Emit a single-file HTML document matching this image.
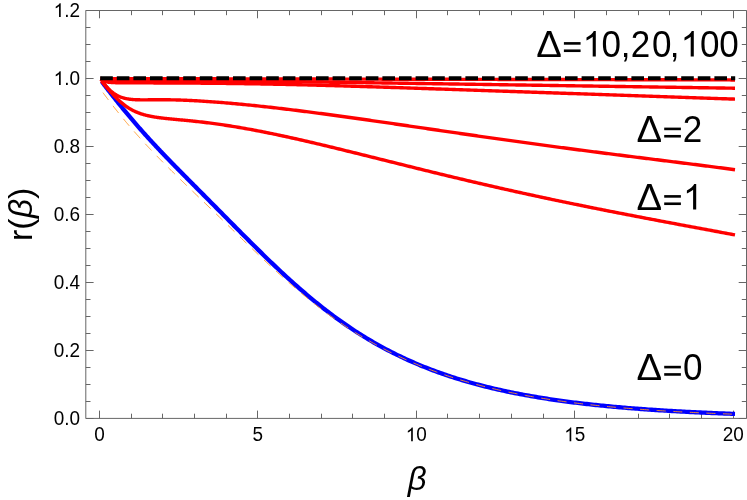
<!DOCTYPE html>
<html><head><meta charset="utf-8"><title>r(beta)</title>
<style>
html,body{margin:0;padding:0;background:#fff;}
svg{display:block;will-change:transform;}
.t{font-family:"Liberation Sans",sans-serif;fill:#000;}
</style>
</head><body>
<svg width="747" height="500" viewBox="0 0 747 500">
<rect width="747" height="500" fill="#fff"/>
<g stroke="#666" stroke-width="1" fill="none">
<path d="M85.8,10.5 H746.5 M85.8,418.4 H746.5 M85.8,10.5 V418.4 M746.5,10.5 V418.4"/>
<path d="M99.50,418.4 v-7.8 M99.50,10.5 v7.8 M131.50,418.4 v-4.7 M131.50,10.5 v4.7 M162.50,418.4 v-4.7 M162.50,10.5 v4.7 M194.50,418.4 v-4.7 M194.50,10.5 v4.7 M226.50,418.4 v-4.7 M226.50,10.5 v4.7 M257.50,418.4 v-7.8 M257.50,10.5 v7.8 M289.50,418.4 v-4.7 M289.50,10.5 v4.7 M321.50,418.4 v-4.7 M321.50,10.5 v4.7 M352.50,418.4 v-4.7 M352.50,10.5 v4.7 M384.50,418.4 v-4.7 M384.50,10.5 v4.7 M416.50,418.4 v-7.8 M416.50,10.5 v7.8 M447.50,418.4 v-4.7 M447.50,10.5 v4.7 M479.50,418.4 v-4.7 M479.50,10.5 v4.7 M511.50,418.4 v-4.7 M511.50,10.5 v4.7 M543.50,418.4 v-4.7 M543.50,10.5 v4.7 M574.50,418.4 v-7.8 M574.50,10.5 v7.8 M606.50,418.4 v-4.7 M606.50,10.5 v4.7 M638.50,418.4 v-4.7 M638.50,10.5 v4.7 M669.50,418.4 v-4.7 M669.50,10.5 v4.7 M701.50,418.4 v-4.7 M701.50,10.5 v4.7 M733.50,418.4 v-7.8 M733.50,10.5 v7.8 M85.8,418.50 h7.8 M746.5,418.50 h-7.8 M85.8,401.50 h4.7 M746.5,401.50 h-4.7 M85.8,384.50 h4.7 M746.5,384.50 h-4.7 M85.8,367.50 h4.7 M746.5,367.50 h-4.7 M85.8,350.50 h7.8 M746.5,350.50 h-7.8 M85.8,333.50 h4.7 M746.5,333.50 h-4.7 M85.8,316.50 h4.7 M746.5,316.50 h-4.7 M85.8,299.50 h4.7 M746.5,299.50 h-4.7 M85.8,282.50 h7.8 M746.5,282.50 h-7.8 M85.8,265.50 h4.7 M746.5,265.50 h-4.7 M85.8,248.50 h4.7 M746.5,248.50 h-4.7 M85.8,231.50 h4.7 M746.5,231.50 h-4.7 M85.8,214.50 h7.8 M746.5,214.50 h-7.8 M85.8,197.50 h4.7 M746.5,197.50 h-4.7 M85.8,180.50 h4.7 M746.5,180.50 h-4.7 M85.8,163.50 h4.7 M746.5,163.50 h-4.7 M85.8,146.50 h7.8 M746.5,146.50 h-7.8 M85.8,129.50 h4.7 M746.5,129.50 h-4.7 M85.8,112.50 h4.7 M746.5,112.50 h-4.7 M85.8,95.50 h4.7 M746.5,95.50 h-4.7 M85.8,78.50 h7.8 M746.5,78.50 h-7.8 M85.8,61.50 h4.7 M746.5,61.50 h-4.7 M85.8,44.50 h4.7 M746.5,44.50 h-4.7 M85.8,27.50 h4.7 M746.5,27.50 h-4.7 M85.8,10.50 h7.8 M746.5,10.50 h-7.8"/>
</g>
<path d="M101.69,81.46 L102.32,82.31 L102.96,83.15 L103.59,83.99 L104.23,84.83 L104.86,85.67 L105.50,86.51 L106.14,87.34 L106.77,88.17 L107.41,89.00 L108.04,89.83 L108.68,90.66 L109.31,91.48 L109.95,92.30 L110.58,93.12 L111.22,93.94 L111.85,94.75 L112.49,95.57 L113.13,96.38 L113.76,97.19 L114.40,97.99 L115.03,98.80 L115.67,99.60 L116.30,100.40 L116.94,101.20 L117.57,101.99 L118.21,102.79 L118.85,103.58 L119.48,104.37 L120.12,105.16 L120.75,105.94 L121.39,106.72 L122.02,107.50 L122.66,108.28 L123.29,109.06 L123.93,109.84 L124.56,110.61 L125.20,111.38 L125.84,112.15 L126.47,112.91 L127.11,113.68 L127.74,114.44 L128.38,115.20 L129.01,115.96 L129.65,116.71 L130.28,117.47 L130.92,118.22 L131.56,118.97 L132.19,119.71 L132.83,120.46 L133.46,121.20 L134.10,121.94 L134.73,122.68 L135.37,123.42 L136.00,124.16 L136.64,124.89 L137.27,125.62 L137.91,126.35 L138.55,127.08 L139.18,127.80 L139.82,128.53 L140.45,129.25 L141.09,129.97 L141.72,130.68 L142.36,131.40 L142.99,132.11 L143.63,132.82 L144.27,133.53 L144.90,134.24 L145.54,134.95 L146.17,135.65 L146.81,136.36 L147.44,137.06 L148.08,137.76 L148.71,138.45 L149.35,139.15 L149.98,139.84 L150.62,140.54 L151.26,141.23 L151.89,141.92 L152.53,142.61 L153.16,143.29 L153.80,143.98 L154.43,144.66 L155.07,145.34 L155.70,146.02 L156.34,146.70 L156.98,147.38 L157.61,148.05 L158.25,148.73 L158.88,149.40 L159.52,150.07 L160.15,150.75 L160.79,151.41 L161.42,152.08 L162.06,152.75 L162.69,153.42 L163.33,154.08 L163.97,154.75 L164.60,155.41 L165.24,156.07 L165.87,156.73 L166.51,157.39 L167.14,158.05 L167.78,158.71 L168.41,159.36 L169.05,160.02 L169.69,160.67 L170.32,161.33 L170.96,161.98 L171.59,162.63 L172.23,163.29 L172.86,163.94 L173.50,164.59 L174.13,165.24 L174.77,165.89 L175.40,166.53 L176.04,167.18 L176.68,167.83 L177.31,168.48 L177.95,169.12 L178.58,169.77 L179.22,170.41 L179.85,171.06 L180.49,171.70 L181.12,172.34 L181.76,172.99 L182.40,173.63 L183.03,174.27 L183.67,174.92 L184.30,175.56 L184.94,176.20 L185.57,176.84 L186.21,177.48 L186.84,178.12 L187.48,178.76 L188.11,179.40 L188.75,180.04 L189.39,180.68 L190.02,181.32 L190.66,181.96 L191.29,182.60 L191.93,183.24 L192.56,183.88 L193.20,184.52 L193.83,185.16 L194.47,185.80 L196.28,187.62 L198.09,189.43 L199.89,191.25 L201.70,193.07 L203.51,194.89 L205.32,196.71 L207.12,198.53 L208.93,200.35 L210.74,202.17 L212.55,203.99 L214.36,205.81 L216.16,207.63 L217.97,209.46 L219.78,211.28 L221.59,213.11 L223.40,214.93 L225.20,216.76 L227.01,218.58 L228.82,220.41 L230.63,222.23 L232.43,224.05 L234.24,225.88 L236.05,227.70 L237.86,229.52 L239.67,231.34 L241.47,233.15 L243.28,234.97 L245.09,236.78 L246.90,238.59 L248.70,240.39 L250.51,242.19 L252.32,243.99 L254.13,245.78 L255.94,247.57 L257.74,249.36 L259.55,251.14 L261.36,252.91 L263.17,254.68 L264.97,256.44 L266.78,258.19 L268.59,259.94 L270.40,261.68 L272.21,263.41 L274.01,265.14 L275.82,266.85 L277.63,268.56 L279.44,270.26 L281.25,271.95 L283.05,273.63 L284.86,275.31 L286.67,276.97 L288.48,278.62 L290.28,280.26 L292.09,281.89 L293.90,283.51 L295.71,285.12 L297.52,286.72 L299.32,288.31 L301.13,289.88 L302.94,291.45 L304.75,293.00 L306.55,294.54 L308.36,296.06 L310.17,297.58 L311.98,299.08 L313.79,300.57 L315.59,302.05 L317.40,303.51 L319.21,304.96 L321.02,306.40 L322.82,307.83 L324.63,309.24 L326.44,310.64 L328.25,312.02 L330.06,313.39 L331.86,314.75 L333.67,316.10 L335.48,317.43 L337.29,318.75 L339.10,320.05 L340.90,321.34 L342.71,322.62 L344.52,323.88 L346.33,325.13 L348.13,326.37 L349.94,327.59 L351.75,328.80 L353.56,330.00 L355.37,331.18 L357.17,332.35 L358.98,333.50 L360.79,334.64 L362.60,335.77 L364.40,336.89 L366.21,337.99 L368.02,339.08 L369.83,340.16 L371.64,341.22 L373.44,342.27 L375.25,343.31 L377.06,344.34 L378.87,345.35 L380.67,346.35 L382.48,347.34 L384.29,348.31 L386.10,349.28 L387.91,350.23 L389.71,351.17 L391.52,352.10 L393.33,353.01 L395.14,353.92 L396.95,354.81 L398.75,355.69 L400.56,356.56 L402.37,357.41 L404.18,358.26 L405.98,359.10 L407.79,359.92 L409.60,360.74 L411.41,361.54 L413.22,362.33 L415.02,363.11 L416.83,363.88 L418.64,364.64 L420.45,365.40 L422.25,366.14 L424.06,366.87 L425.87,367.59 L427.68,368.30 L429.49,369.00 L431.29,369.69 L433.10,370.37 L434.91,371.05 L436.72,371.71 L438.52,372.37 L440.33,373.01 L442.14,373.65 L443.95,374.28 L445.76,374.90 L447.56,375.51 L449.37,376.11 L451.18,376.71 L452.99,377.29 L454.80,377.87 L456.60,378.44 L458.41,379.00 L460.22,379.56 L462.03,380.10 L463.83,380.64 L465.64,381.17 L467.45,381.70 L469.26,382.21 L471.07,382.72 L472.87,383.23 L474.68,383.72 L476.49,384.21 L478.30,384.69 L480.10,385.17 L481.91,385.63 L483.72,386.09 L485.53,386.55 L487.34,387.00 L489.14,387.44 L490.95,387.88 L492.76,388.31 L494.57,388.73 L496.37,389.15 L498.18,389.56 L499.99,389.97 L501.80,390.37 L503.61,390.76 L505.41,391.15 L507.22,391.54 L509.03,391.92 L510.84,392.29 L512.65,392.66 L514.45,393.02 L516.26,393.38 L518.07,393.73 L519.88,394.08 L521.68,394.42 L523.49,394.76 L525.30,395.09 L527.11,395.42 L528.92,395.74 L530.72,396.06 L532.53,396.38 L534.34,396.69 L536.15,396.99 L537.95,397.29 L539.76,397.59 L541.57,397.89 L543.38,398.17 L545.19,398.46 L546.99,398.74 L548.80,399.02 L550.61,399.29 L552.42,399.56 L554.22,399.82 L556.03,400.09 L557.84,400.34 L559.65,400.60 L561.46,400.85 L563.26,401.10 L565.07,401.34 L566.88,401.58 L568.69,401.82 L570.50,402.05 L572.30,402.28 L574.11,402.51 L575.92,402.73 L577.73,402.95 L579.53,403.17 L581.34,403.38 L583.15,403.60 L584.96,403.80 L586.77,404.01 L588.57,404.21 L590.38,404.41 L592.19,404.61 L594.00,404.80 L595.80,405.00 L597.61,405.18 L599.42,405.37 L601.23,405.55 L603.04,405.73 L604.84,405.91 L606.65,406.09 L608.46,406.26 L610.27,406.43 L612.07,406.60 L613.88,406.77 L615.69,406.93 L617.50,407.09 L619.31,407.25 L621.11,407.41 L622.92,407.56 L624.73,407.72 L626.54,407.87 L628.35,408.02 L630.15,408.16 L631.96,408.31 L633.77,408.45 L635.58,408.59 L637.38,408.73 L639.19,408.86 L641.00,409.00 L642.81,409.13 L644.62,409.26 L646.42,409.39 L648.23,409.52 L650.04,409.64 L651.85,409.76 L653.65,409.89 L655.46,410.01 L657.27,410.12 L659.08,410.24 L660.89,410.36 L662.69,410.47 L664.50,410.58 L666.31,410.69 L668.12,410.80 L669.93,410.91 L671.73,411.01 L673.54,411.12 L675.35,411.22 L677.16,411.32 L678.96,411.42 L680.77,411.52 L682.58,411.61 L684.39,411.71 L686.20,411.80 L688.00,411.90 L689.81,411.99 L691.62,412.08 L693.43,412.17 L695.23,412.26 L697.04,412.34 L698.85,412.43 L700.66,412.51 L702.47,412.60 L704.27,412.68 L706.08,412.76 L707.89,412.84 L709.70,412.92 L711.50,412.99 L713.31,413.07 L715.12,413.14 L716.93,413.22 L718.74,413.29 L720.54,413.36 L722.35,413.44 L724.16,413.51 L725.97,413.57 L727.78,413.64 L729.58,413.71 L731.39,413.78 L733.20,413.84 L735.01,413.91" fill="none" stroke="#0000ff" stroke-width="4.3" stroke-linejoin="round"/>
<path d="M102.96,92.68 L103.59,93.53 L104.23,94.38 L104.86,95.23 L105.50,96.07 L106.14,96.91 L106.77,97.75 L107.41,98.59 L108.04,99.43 L108.68,100.26 L109.31,101.09 L109.95,101.92 L110.58,102.75 L111.22,103.58 L111.85,104.40 L112.49,105.22 L113.13,106.04 L113.76,106.85 L114.40,107.66 L115.03,108.47 L115.67,109.28 L116.30,110.08 L116.94,110.89 L117.57,111.68 L118.21,112.48 L118.85,113.27 L119.48,114.06 L120.12,114.85 L120.75,115.63 L121.39,116.41 L122.02,117.19 L122.66,117.97 L123.29,118.74 L123.93,119.51 L124.56,120.27 L125.20,121.04 L125.84,121.80 L126.47,122.56 L127.11,123.31 L127.74,124.06 L128.38,124.81 L129.01,125.56 L129.65,126.31 L130.28,127.05 L130.92,127.79 L131.56,128.52 L132.19,129.26 L132.83,129.99 L133.46,130.72 L134.10,131.44 L134.73,132.16 L135.37,132.89 L136.00,133.60 L136.64,134.32 L137.27,135.03 L137.91,135.74 L138.55,136.45 L139.18,137.16 L139.82,137.86 L140.45,138.57 L141.09,139.27 L141.72,139.96 L142.36,140.66 L142.99,141.35 L143.63,142.04 L144.27,142.73 L144.90,143.42 L145.54,144.11 L146.17,144.79 L146.81,145.47 L147.44,146.15 L148.08,146.83 L148.71,147.50 L149.35,148.18 L149.98,148.85 L150.62,149.52 L151.26,150.19 L151.89,150.86 L152.53,151.52 L153.16,152.18 L153.80,152.85 L154.43,153.51 L155.07,154.17 L155.70,154.82 L156.34,155.48 L156.98,156.13 L157.61,156.79 L158.25,157.44 L158.88,158.09 L159.52,158.74 L160.15,159.38 L160.79,160.03 L161.42,160.68 L162.06,161.32 L162.69,161.96 L163.33,162.60 L163.97,163.24 L164.60,163.88 L165.24,164.52 L165.87,165.16 L166.51,165.79 L167.14,166.43 L167.78,167.06 L168.41,167.69 L169.05,168.32 L169.69,168.95 L170.32,169.58 L170.96,170.21 L171.59,170.84 L172.23,171.47 L172.86,172.09 L173.50,172.72 L174.13,173.34 L174.77,173.96 L175.40,174.59 L176.04,175.21 L176.68,175.83 L177.31,176.45 L177.95,177.07 L178.58,177.69 L179.22,178.31 L179.85,178.93 L180.49,179.55 L181.12,180.16 L181.76,180.78 L182.40,181.40 L183.03,182.01 L183.67,182.63 L184.30,183.24 L184.94,183.86 L185.57,184.47 L186.21,185.08 L186.84,185.70 L187.48,186.31 L188.11,186.92 L188.75,187.53 L189.39,188.15 L190.02,188.76 L190.66,189.37 L191.29,189.98 L191.93,190.59 L192.56,191.20 L193.20,191.82 L193.83,192.43 L194.47,193.04 L196.28,194.77 L198.09,196.51 L199.89,198.25 L201.70,199.99 L203.51,201.72 L205.32,203.46 L207.12,205.20 L208.93,206.94 L210.74,208.69 L212.55,210.43 L214.36,212.17 L216.16,213.92 L217.97,215.67 L219.78,217.42 L221.59,219.17 L223.40,220.92 L225.20,222.67 L227.01,224.42 L228.82,226.18 L230.63,227.93 L232.43,229.68 L234.24,231.43 L236.05,233.19 L237.86,234.94 L239.67,236.69 L241.47,238.44 L243.28,240.18 L245.09,241.93 L246.90,243.67 L248.70,245.41 L250.51,247.14 L252.32,248.87 L254.13,250.60 L255.94,252.32 L257.74,254.04 L259.55,255.75 L261.36,257.46 L263.17,259.16 L264.97,260.85 L266.78,262.54 L268.59,264.22 L270.40,265.90 L272.21,267.56 L274.01,269.22 L275.82,270.87 L277.63,272.51 L279.44,274.15 L281.25,275.77 L283.05,277.38 L284.86,278.99 L286.67,280.59 L288.48,282.17 L290.28,283.75 L292.09,285.31 L293.90,286.87 L295.71,288.41 L297.52,289.94 L299.32,291.47 L301.13,292.98 L302.94,294.48 L304.75,295.96 L306.55,297.44 L308.36,298.90 L310.17,300.36 L311.98,301.80 L313.79,303.22 L315.59,304.64 L317.40,306.04 L319.21,307.43 L321.02,308.81 L322.82,310.18 L324.63,311.53 L326.44,312.87 L328.25,314.20 L330.06,315.52 L331.86,316.82 L333.67,318.11 L335.48,319.39 L337.29,320.65 L339.10,321.90 L340.90,323.14 L342.71,324.37 L344.52,325.58 L346.33,326.78 L348.13,327.97 L349.94,329.15 L351.75,330.31 L353.56,331.46 L355.37,332.60 L357.17,333.72 L358.98,334.84 L360.79,335.94 L362.60,337.03 L364.40,338.10 L366.21,339.17 L368.02,340.22 L369.83,341.26 L371.64,342.29 L373.44,343.31 L375.25,344.31 L377.06,345.30 L378.87,346.29 L380.67,347.25 L382.48,348.21 L384.29,349.16 L386.10,350.10 L387.91,351.02 L389.71,351.93 L391.52,352.84 L393.33,353.73 L395.14,354.61 L396.95,355.48 L398.75,356.34 L400.56,357.18 L402.37,358.02 L404.18,358.85 L405.98,359.67 L407.79,360.47 L409.60,361.27 L411.41,362.06 L413.22,362.83 L415.02,363.60 L416.83,364.36 L418.64,365.11 L420.45,365.84 L422.25,366.57 L424.06,367.29 L425.87,368.00 L427.68,368.70 L429.49,369.39 L431.29,370.08 L433.10,370.75 L434.91,371.42 L436.72,372.07 L438.52,372.72 L440.33,373.36 L442.14,373.99 L443.95,374.61 L445.76,375.22 L447.56,375.83 L449.37,376.43 L451.18,377.02 L452.99,377.60 L454.80,378.17 L456.60,378.74 L458.41,379.30 L460.22,379.85 L462.03,380.40 L463.83,380.93 L465.64,381.46 L467.45,381.98 L469.26,382.50 L471.07,383.01 L472.87,383.51 L474.68,384.00 L476.49,384.49 L478.30,384.97 L480.10,385.45 L481.91,385.91 L483.72,386.37 L485.53,386.83 L487.34,387.28 L489.14,387.72 L490.95,388.16 L492.76,388.59 L494.57,389.01 L496.37,389.43 L498.18,389.85 L499.99,390.25 L501.80,390.65 L503.61,391.05 L505.41,391.44 L507.22,391.83 L509.03,392.21 L510.84,392.58 L512.65,392.95 L514.45,393.31 L516.26,393.67 L518.07,394.03 L519.88,394.38 L521.68,394.72 L523.49,395.06 L525.30,395.39 L527.11,395.72 L528.92,396.05 L530.72,396.37 L532.53,396.69 L534.34,397.00 L536.15,397.31 L537.95,397.61 L539.76,397.91 L541.57,398.20 L543.38,398.49 L545.19,398.78 L546.99,399.06 L548.80,399.34 L550.61,399.61 L552.42,399.89 L554.22,400.15 L556.03,400.42 L557.84,400.67 L559.65,400.93 L561.46,401.18 L563.26,401.43 L565.07,401.68 L566.88,401.92 L568.69,402.15 L570.50,402.39 L572.30,402.62 L574.11,402.85 L575.92,403.07 L577.73,403.30 L579.53,403.51 L581.34,403.73 L583.15,403.94 L584.96,404.15 L586.77,404.36 L588.57,404.56 L590.38,404.76 L592.19,404.96 L594.00,405.15 L595.80,405.35 L597.61,405.53 L599.42,405.72 L601.23,405.91 L603.04,406.09 L604.84,406.27 L606.65,406.44 L608.46,406.62 L610.27,406.79 L612.07,406.96 L613.88,407.12 L615.69,407.29 L617.50,407.45 L619.31,407.61 L621.11,407.76 L622.92,407.92 L624.73,408.07 L626.54,408.22 L628.35,408.37 L630.15,408.52 L631.96,408.66 L633.77,408.80 L635.58,408.94 L637.38,409.08 L639.19,409.22 L641.00,409.35 L642.81,409.48 L644.62,409.61 L646.42,409.74 L648.23,409.87 L650.04,409.99 L651.85,410.12 L653.65,410.24 L655.46,410.36 L657.27,410.48 L659.08,410.59 L660.89,410.71 L662.69,410.82 L664.50,410.93 L666.31,411.04 L668.12,411.15 L669.93,411.25 L671.73,411.36 L673.54,411.46 L675.35,411.57 L677.16,411.67 L678.96,411.77 L680.77,411.86 L682.58,411.96 L684.39,412.05 L686.20,412.15 L688.00,412.24 L689.81,412.33 L691.62,412.42 L693.43,412.51 L695.23,412.60 L697.04,412.68 L698.85,412.77 L700.66,412.85 L702.47,412.93 L704.27,413.01 L706.08,413.09 L707.89,413.17 L709.70,413.25 L711.50,413.32 L713.31,413.40 L715.12,413.47 L716.93,413.55 L718.74,413.62 L720.54,413.69 L722.35,413.76 L724.16,413.83 L725.97,413.90 L727.78,413.97 L729.58,414.03 L731.39,414.10 L733.20,414.16 L735.01,414.22" fill="none" stroke="#ff9526" stroke-width="0.9" stroke-dasharray="9.1 7.5"/>
<path d="M101.69,81.20 L102.32,81.97 L102.96,82.75 L103.59,83.53 L104.23,84.30 L104.86,85.07 L105.50,85.84 L106.14,86.60 L106.77,87.36 L107.41,88.11 L108.04,88.86 L108.68,89.61 L109.31,90.34 L109.95,91.07 L110.58,91.80 L111.22,92.51 L111.85,93.22 L112.49,93.92 L113.13,94.61 L113.76,95.29 L114.40,95.96 L115.03,96.62 L115.67,97.27 L116.30,97.91 L116.94,98.54 L117.57,99.16 L118.21,99.76 L118.85,100.36 L119.48,100.94 L120.12,101.51 L120.75,102.07 L121.39,102.62 L122.02,103.15 L122.66,103.67 L123.29,104.18 L123.93,104.68 L124.56,105.16 L125.20,105.64 L125.84,106.10 L126.47,106.54 L127.11,106.98 L127.74,107.40 L128.38,107.81 L129.01,108.21 L129.65,108.60 L130.28,108.98 L130.92,109.35 L131.56,109.70 L132.19,110.04 L132.83,110.38 L133.46,110.70 L134.10,111.01 L134.73,111.31 L135.37,111.60 L136.00,111.89 L136.64,112.16 L137.27,112.42 L137.91,112.68 L138.55,112.92 L139.18,113.16 L139.82,113.39 L140.45,113.61 L141.09,113.83 L141.72,114.04 L142.36,114.24 L142.99,114.43 L143.63,114.62 L144.27,114.80 L144.90,114.97 L145.54,115.14 L146.17,115.30 L146.81,115.45 L147.44,115.61 L148.08,115.75 L148.71,115.89 L149.35,116.03 L149.98,116.16 L150.62,116.29 L151.26,116.41 L151.89,116.53 L152.53,116.65 L153.16,116.76 L153.80,116.87 L154.43,116.97 L155.07,117.07 L155.70,117.17 L156.34,117.27 L156.98,117.36 L157.61,117.45 L158.25,117.54 L158.88,117.63 L159.52,117.71 L160.15,117.80 L160.79,117.88 L161.42,117.95 L162.06,118.03 L162.69,118.11 L163.33,118.18 L163.97,118.25 L164.60,118.32 L165.24,118.39 L165.87,118.46 L166.51,118.53 L167.14,118.60 L167.78,118.66 L168.41,118.73 L169.05,118.79 L169.69,118.85 L170.32,118.92 L170.96,118.98 L171.59,119.04 L172.23,119.10 L172.86,119.16 L173.50,119.22 L174.13,119.28 L174.77,119.34 L175.40,119.40 L176.04,119.46 L176.68,119.52 L177.31,119.58 L177.95,119.64 L178.58,119.70 L179.22,119.76 L179.85,119.82 L180.49,119.88 L181.12,119.94 L181.76,120.00 L182.40,120.05 L183.03,120.12 L183.67,120.18 L184.30,120.24 L184.94,120.30 L185.57,120.36 L186.21,120.42 L186.84,120.48 L187.48,120.54 L188.11,120.61 L188.75,120.67 L189.39,120.73 L190.02,120.80 L190.66,120.86 L191.29,120.93 L191.93,120.99 L192.56,121.06 L193.20,121.12 L193.83,121.19 L194.47,121.26 L196.28,121.45 L198.09,121.65 L199.89,121.85 L201.70,122.06 L203.51,122.27 L205.32,122.49 L207.12,122.71 L208.93,122.93 L210.74,123.17 L212.55,123.40 L214.36,123.64 L216.16,123.89 L217.97,124.14 L219.78,124.40 L221.59,124.66 L223.40,124.93 L225.20,125.20 L227.01,125.47 L228.82,125.75 L230.63,126.04 L232.43,126.33 L234.24,126.62 L236.05,126.92 L237.86,127.22 L239.67,127.53 L241.47,127.84 L243.28,128.15 L245.09,128.47 L246.90,128.80 L248.70,129.12 L250.51,129.45 L252.32,129.79 L254.13,130.13 L255.94,130.47 L257.74,130.82 L259.55,131.16 L261.36,131.52 L263.17,131.87 L264.97,132.23 L266.78,132.60 L268.59,132.96 L270.40,133.33 L272.21,133.70 L274.01,134.08 L275.82,134.46 L277.63,134.84 L279.44,135.22 L281.25,135.61 L283.05,135.99 L284.86,136.39 L286.67,136.78 L288.48,137.18 L290.28,137.57 L292.09,137.97 L293.90,138.38 L295.71,138.78 L297.52,139.19 L299.32,139.60 L301.13,140.01 L302.94,140.42 L304.75,140.84 L306.55,141.26 L308.36,141.67 L310.17,142.10 L311.98,142.52 L313.79,142.94 L315.59,143.37 L317.40,143.79 L319.21,144.22 L321.02,144.65 L322.82,145.08 L324.63,145.51 L326.44,145.95 L328.25,146.38 L330.06,146.82 L331.86,147.26 L333.67,147.69 L335.48,148.13 L337.29,148.57 L339.10,149.01 L340.90,149.46 L342.71,149.90 L344.52,150.34 L346.33,150.79 L348.13,151.23 L349.94,151.68 L351.75,152.12 L353.56,152.57 L355.37,153.02 L357.17,153.46 L358.98,153.91 L360.79,154.36 L362.60,154.81 L364.40,155.26 L366.21,155.71 L368.02,156.16 L369.83,156.61 L371.64,157.06 L373.44,157.51 L375.25,157.96 L377.06,158.41 L378.87,158.86 L380.67,159.31 L382.48,159.77 L384.29,160.22 L386.10,160.67 L387.91,161.12 L389.71,161.57 L391.52,162.02 L393.33,162.47 L395.14,162.92 L396.95,163.37 L398.75,163.82 L400.56,164.27 L402.37,164.72 L404.18,165.17 L405.98,165.62 L407.79,166.07 L409.60,166.52 L411.41,166.96 L413.22,167.41 L415.02,167.86 L416.83,168.30 L418.64,168.75 L420.45,169.20 L422.25,169.64 L424.06,170.09 L425.87,170.53 L427.68,170.97 L429.49,171.41 L431.29,171.86 L433.10,172.30 L434.91,172.74 L436.72,173.18 L438.52,173.62 L440.33,174.06 L442.14,174.49 L443.95,174.93 L445.76,175.37 L447.56,175.80 L449.37,176.24 L451.18,176.67 L452.99,177.11 L454.80,177.54 L456.60,177.97 L458.41,178.40 L460.22,178.83 L462.03,179.26 L463.83,179.69 L465.64,180.12 L467.45,180.55 L469.26,180.97 L471.07,181.40 L472.87,181.82 L474.68,182.24 L476.49,182.67 L478.30,183.09 L480.10,183.51 L481.91,183.93 L483.72,184.35 L485.53,184.76 L487.34,185.18 L489.14,185.60 L490.95,186.01 L492.76,186.42 L494.57,186.84 L496.37,187.25 L498.18,187.66 L499.99,188.07 L501.80,188.48 L503.61,188.89 L505.41,189.29 L507.22,189.70 L509.03,190.11 L510.84,190.51 L512.65,190.91 L514.45,191.32 L516.26,191.72 L518.07,192.12 L519.88,192.52 L521.68,192.91 L523.49,193.31 L525.30,193.71 L527.11,194.10 L528.92,194.50 L530.72,194.89 L532.53,195.28 L534.34,195.67 L536.15,196.07 L537.95,196.45 L539.76,196.84 L541.57,197.23 L543.38,197.62 L545.19,198.00 L546.99,198.39 L548.80,198.77 L550.61,199.16 L552.42,199.54 L554.22,199.92 L556.03,200.30 L557.84,200.68 L559.65,201.06 L561.46,201.43 L563.26,201.81 L565.07,202.19 L566.88,202.56 L568.69,202.94 L570.50,203.31 L572.30,203.68 L574.11,204.05 L575.92,204.42 L577.73,204.79 L579.53,205.16 L581.34,205.53 L583.15,205.90 L584.96,206.26 L586.77,206.63 L588.57,206.99 L590.38,207.36 L592.19,207.72 L594.00,208.08 L595.80,208.45 L597.61,208.81 L599.42,209.17 L601.23,209.53 L603.04,209.89 L604.84,210.24 L606.65,210.60 L608.46,210.96 L610.27,211.32 L612.07,211.67 L613.88,212.03 L615.69,212.38 L617.50,212.73 L619.31,213.09 L621.11,213.44 L622.92,213.79 L624.73,214.14 L626.54,214.49 L628.35,214.84 L630.15,215.19 L631.96,215.54 L633.77,215.89 L635.58,216.24 L637.38,216.59 L639.19,216.93 L641.00,217.28 L642.81,217.63 L644.62,217.97 L646.42,218.32 L648.23,218.66 L650.04,219.00 L651.85,219.35 L653.65,219.69 L655.46,220.04 L657.27,220.38 L659.08,220.72 L660.89,221.06 L662.69,221.40 L664.50,221.74 L666.31,222.09 L668.12,222.43 L669.93,222.77 L671.73,223.11 L673.54,223.45 L675.35,223.79 L677.16,224.12 L678.96,224.46 L680.77,224.80 L682.58,225.14 L684.39,225.48 L686.20,225.82 L688.00,226.15 L689.81,226.49 L691.62,226.83 L693.43,227.17 L695.23,227.50 L697.04,227.84 L698.85,228.18 L700.66,228.52 L702.47,228.85 L704.27,229.19 L706.08,229.53 L707.89,229.86 L709.70,230.20 L711.50,230.53 L713.31,230.87 L715.12,231.21 L716.93,231.54 L718.74,231.88 L720.54,232.22 L722.35,232.55 L724.16,232.89 L725.97,233.23 L727.78,233.56 L729.58,233.90 L731.39,234.23 L733.20,234.57 L735.01,234.91" stroke="#ff0000" stroke-width="3.4" fill="none" stroke-linejoin="round"/>
<path d="M101.69,81.21 L102.32,81.98 L102.96,82.75 L103.59,83.50 L104.23,84.24 L104.86,84.97 L105.50,85.69 L106.14,86.39 L106.77,87.07 L107.41,87.74 L108.04,88.38 L108.68,89.01 L109.31,89.62 L109.95,90.21 L110.58,90.78 L111.22,91.32 L111.85,91.85 L112.49,92.35 L113.13,92.83 L113.76,93.29 L114.40,93.73 L115.03,94.15 L115.67,94.55 L116.30,94.93 L116.94,95.28 L117.57,95.62 L118.21,95.94 L118.85,96.24 L119.48,96.53 L120.12,96.79 L120.75,97.05 L121.39,97.28 L122.02,97.50 L122.66,97.71 L123.29,97.90 L123.93,98.08 L124.56,98.24 L125.20,98.40 L125.84,98.54 L126.47,98.67 L127.11,98.80 L127.74,98.91 L128.38,99.01 L129.01,99.11 L129.65,99.19 L130.28,99.27 L130.92,99.34 L131.56,99.41 L132.19,99.47 L132.83,99.52 L133.46,99.57 L134.10,99.61 L134.73,99.65 L135.37,99.68 L136.00,99.71 L136.64,99.74 L137.27,99.76 L137.91,99.78 L138.55,99.79 L139.18,99.81 L139.82,99.82 L140.45,99.83 L141.09,99.83 L141.72,99.84 L142.36,99.84 L142.99,99.84 L143.63,99.84 L144.27,99.84 L144.90,99.84 L145.54,99.84 L146.17,99.84 L146.81,99.83 L147.44,99.83 L148.08,99.82 L148.71,99.82 L149.35,99.81 L149.98,99.81 L150.62,99.80 L151.26,99.79 L151.89,99.79 L152.53,99.78 L153.16,99.78 L153.80,99.77 L154.43,99.77 L155.07,99.76 L155.70,99.76 L156.34,99.75 L156.98,99.75 L157.61,99.75 L158.25,99.75 L158.88,99.74 L159.52,99.74 L160.15,99.74 L160.79,99.74 L161.42,99.74 L162.06,99.74 L162.69,99.74 L163.33,99.75 L163.97,99.75 L164.60,99.75 L165.24,99.76 L165.87,99.76 L166.51,99.77 L167.14,99.78 L167.78,99.78 L168.41,99.79 L169.05,99.80 L169.69,99.81 L170.32,99.82 L170.96,99.83 L171.59,99.84 L172.23,99.85 L172.86,99.87 L173.50,99.88 L174.13,99.89 L174.77,99.91 L175.40,99.92 L176.04,99.94 L176.68,99.96 L177.31,99.98 L177.95,99.99 L178.58,100.01 L179.22,100.03 L179.85,100.05 L180.49,100.07 L181.12,100.09 L181.76,100.12 L182.40,100.14 L183.03,100.16 L183.67,100.19 L184.30,100.21 L184.94,100.24 L185.57,100.26 L186.21,100.29 L186.84,100.32 L187.48,100.34 L188.11,100.37 L188.75,100.40 L189.39,100.43 L190.02,100.46 L190.66,100.49 L191.29,100.52 L191.93,100.55 L192.56,100.59 L193.20,100.62 L193.83,100.65 L194.47,100.68 L196.28,100.78 L198.09,100.89 L199.89,100.99 L201.70,101.10 L203.51,101.22 L205.32,101.33 L207.12,101.45 L208.93,101.58 L210.74,101.70 L212.55,101.83 L214.36,101.97 L216.16,102.10 L217.97,102.24 L219.78,102.39 L221.59,102.53 L223.40,102.68 L225.20,102.83 L227.01,102.98 L228.82,103.14 L230.63,103.30 L232.43,103.46 L234.24,103.62 L236.05,103.78 L237.86,103.95 L239.67,104.12 L241.47,104.29 L243.28,104.47 L245.09,104.64 L246.90,104.82 L248.70,105.00 L250.51,105.18 L252.32,105.37 L254.13,105.56 L255.94,105.74 L257.74,105.93 L259.55,106.13 L261.36,106.32 L263.17,106.51 L264.97,106.71 L266.78,106.91 L268.59,107.11 L270.40,107.31 L272.21,107.52 L274.01,107.72 L275.82,107.93 L277.63,108.14 L279.44,108.35 L281.25,108.56 L283.05,108.78 L284.86,108.99 L286.67,109.21 L288.48,109.42 L290.28,109.64 L292.09,109.86 L293.90,110.09 L295.71,110.31 L297.52,110.53 L299.32,110.76 L301.13,110.99 L302.94,111.21 L304.75,111.44 L306.55,111.67 L308.36,111.90 L310.17,112.14 L311.98,112.37 L313.79,112.61 L315.59,112.84 L317.40,113.08 L319.21,113.32 L321.02,113.56 L322.82,113.79 L324.63,114.04 L326.44,114.28 L328.25,114.52 L330.06,114.76 L331.86,115.01 L333.67,115.25 L335.48,115.50 L337.29,115.75 L339.10,115.99 L340.90,116.24 L342.71,116.49 L344.52,116.74 L346.33,116.99 L348.13,117.24 L349.94,117.50 L351.75,117.75 L353.56,118.00 L355.37,118.25 L357.17,118.51 L358.98,118.76 L360.79,119.02 L362.60,119.28 L364.40,119.53 L366.21,119.79 L368.02,120.05 L369.83,120.30 L371.64,120.56 L373.44,120.82 L375.25,121.08 L377.06,121.34 L378.87,121.60 L380.67,121.86 L382.48,122.12 L384.29,122.38 L386.10,122.64 L387.91,122.91 L389.71,123.17 L391.52,123.43 L393.33,123.69 L395.14,123.96 L396.95,124.22 L398.75,124.48 L400.56,124.75 L402.37,125.01 L404.18,125.27 L405.98,125.54 L407.79,125.80 L409.60,126.06 L411.41,126.33 L413.22,126.59 L415.02,126.86 L416.83,127.12 L418.64,127.39 L420.45,127.65 L422.25,127.91 L424.06,128.18 L425.87,128.44 L427.68,128.71 L429.49,128.97 L431.29,129.24 L433.10,129.50 L434.91,129.76 L436.72,130.03 L438.52,130.29 L440.33,130.56 L442.14,130.82 L443.95,131.08 L445.76,131.35 L447.56,131.61 L449.37,131.87 L451.18,132.14 L452.99,132.40 L454.80,132.66 L456.60,132.93 L458.41,133.19 L460.22,133.45 L462.03,133.71 L463.83,133.97 L465.64,134.23 L467.45,134.50 L469.26,134.76 L471.07,135.02 L472.87,135.28 L474.68,135.54 L476.49,135.80 L478.30,136.06 L480.10,136.32 L481.91,136.57 L483.72,136.83 L485.53,137.09 L487.34,137.35 L489.14,137.61 L490.95,137.86 L492.76,138.12 L494.57,138.38 L496.37,138.63 L498.18,138.89 L499.99,139.14 L501.80,139.40 L503.61,139.65 L505.41,139.91 L507.22,140.16 L509.03,140.41 L510.84,140.67 L512.65,140.92 L514.45,141.17 L516.26,141.42 L518.07,141.67 L519.88,141.92 L521.68,142.17 L523.49,142.42 L525.30,142.67 L527.11,142.92 L528.92,143.17 L530.72,143.42 L532.53,143.67 L534.34,143.91 L536.15,144.16 L537.95,144.41 L539.76,144.65 L541.57,144.90 L543.38,145.14 L545.19,145.39 L546.99,145.63 L548.80,145.87 L550.61,146.12 L552.42,146.36 L554.22,146.60 L556.03,146.84 L557.84,147.09 L559.65,147.33 L561.46,147.57 L563.26,147.81 L565.07,148.05 L566.88,148.29 L568.69,148.52 L570.50,148.76 L572.30,149.00 L574.11,149.24 L575.92,149.47 L577.73,149.71 L579.53,149.95 L581.34,150.18 L583.15,150.42 L584.96,150.65 L586.77,150.89 L588.57,151.12 L590.38,151.36 L592.19,151.59 L594.00,151.82 L595.80,152.05 L597.61,152.29 L599.42,152.52 L601.23,152.75 L603.04,152.98 L604.84,153.21 L606.65,153.44 L608.46,153.67 L610.27,153.90 L612.07,154.13 L613.88,154.36 L615.69,154.59 L617.50,154.82 L619.31,155.05 L621.11,155.28 L622.92,155.50 L624.73,155.73 L626.54,155.96 L628.35,156.19 L630.15,156.41 L631.96,156.64 L633.77,156.87 L635.58,157.09 L637.38,157.32 L639.19,157.55 L641.00,157.77 L642.81,158.00 L644.62,158.22 L646.42,158.45 L648.23,158.68 L650.04,158.90 L651.85,159.13 L653.65,159.35 L655.46,159.58 L657.27,159.80 L659.08,160.03 L660.89,160.25 L662.69,160.48 L664.50,160.70 L666.31,160.93 L668.12,161.16 L669.93,161.38 L671.73,161.61 L673.54,161.83 L675.35,162.06 L677.16,162.29 L678.96,162.51 L680.77,162.74 L682.58,162.96 L684.39,163.19 L686.20,163.42 L688.00,163.65 L689.81,163.87 L691.62,164.10 L693.43,164.33 L695.23,164.56 L697.04,164.79 L698.85,165.02 L700.66,165.25 L702.47,165.48 L704.27,165.71 L706.08,165.94 L707.89,166.17 L709.70,166.40 L711.50,166.64 L713.31,166.87 L715.12,167.11 L716.93,167.34 L718.74,167.57 L720.54,167.81 L722.35,168.05 L724.16,168.28 L725.97,168.52 L727.78,168.76 L729.58,169.00 L731.39,169.24 L733.20,169.48 L735.01,169.72" stroke="#ff0000" stroke-width="3.4" fill="none" stroke-linejoin="round"/>
<path d="M100.42,79.43 L101.05,79.86 L101.69,80.23 L102.32,80.55 L102.96,80.84 L103.59,81.08 L104.23,81.30 L104.86,81.49 L105.50,81.66 L106.14,81.80 L106.77,81.93 L107.41,82.04 L108.04,82.14 L108.68,82.23 L109.31,82.30 L109.95,82.37 L110.58,82.43 L111.22,82.48 L111.85,82.52 L112.49,82.56 L113.13,82.59 L113.76,82.63 L114.40,82.65 L115.03,82.67 L115.67,82.70 L116.30,82.71 L116.94,82.73 L117.57,82.74 L118.21,82.76 L118.85,82.77 L119.48,82.78 L120.12,82.79 L120.75,82.79 L121.39,82.80 L122.02,82.81 L122.66,82.81 L123.29,82.82 L123.93,82.82 L124.56,82.83 L125.20,82.83 L125.84,82.83 L126.47,82.84 L127.11,82.84 L127.74,82.84 L128.38,82.85 L129.01,82.85 L129.65,82.85 L130.28,82.85 L130.92,82.86 L131.56,82.86 L132.19,82.86 L132.83,82.86 L133.46,82.86 L134.10,82.87 L134.73,82.87 L135.37,82.87 L136.00,82.87 L136.64,82.87 L137.27,82.87 L137.91,82.88 L138.55,82.88 L139.18,82.88 L139.82,82.88 L140.45,82.88 L141.09,82.89 L141.72,82.89 L142.36,82.89 L142.99,82.89 L143.63,82.89 L144.27,82.89 L144.90,82.90 L145.54,82.90 L146.17,82.90 L146.81,82.90 L147.44,82.90 L148.08,82.91 L148.71,82.91 L149.35,82.91 L149.98,82.91 L150.62,82.91 L151.26,82.92 L151.89,82.92 L152.53,82.92 L153.16,82.92 L153.80,82.93 L154.43,82.93 L155.07,82.93 L155.70,82.93 L156.34,82.93 L156.98,82.94 L157.61,82.94 L158.25,82.94 L158.88,82.94 L159.52,82.95 L160.15,82.95 L160.79,82.95 L161.42,82.95 L162.06,82.96 L162.69,82.96 L163.33,82.96 L163.97,82.96 L164.60,82.97 L165.24,82.97 L165.87,82.97 L166.51,82.97 L167.14,82.98 L167.78,82.98 L168.41,82.98 L169.05,82.99 L169.69,82.99 L170.32,82.99 L170.96,83.00 L171.59,83.00 L172.23,83.00 L172.86,83.00 L173.50,83.01 L174.13,83.01 L174.77,83.01 L175.40,83.02 L176.04,83.02 L176.68,83.02 L177.31,83.03 L177.95,83.03 L178.58,83.03 L179.22,83.04 L179.85,83.04 L180.49,83.04 L181.12,83.05 L181.76,83.05 L182.40,83.06 L183.03,83.06 L183.67,83.06 L184.30,83.07 L184.94,83.07 L185.57,83.07 L186.21,83.08 L186.84,83.08 L187.48,83.09 L188.11,83.09 L188.75,83.09 L189.39,83.10 L190.02,83.10 L190.66,83.11 L191.29,83.11 L191.93,83.12 L192.56,83.12 L193.20,83.12 L193.83,83.13 L194.47,83.13 L196.28,83.15 L198.09,83.16 L199.89,83.17 L201.70,83.19 L203.51,83.20 L205.32,83.22 L207.12,83.23 L208.93,83.25 L210.74,83.27 L212.55,83.28 L214.36,83.30 L216.16,83.32 L217.97,83.34 L219.78,83.36 L221.59,83.38 L223.40,83.40 L225.20,83.42 L227.01,83.44 L228.82,83.46 L230.63,83.48 L232.43,83.50 L234.24,83.53 L236.05,83.55 L237.86,83.58 L239.67,83.60 L241.47,83.63 L243.28,83.65 L245.09,83.68 L246.90,83.71 L248.70,83.73 L250.51,83.76 L252.32,83.79 L254.13,83.82 L255.94,83.85 L257.74,83.88 L259.55,83.91 L261.36,83.94 L263.17,83.98 L264.97,84.01 L266.78,84.04 L268.59,84.08 L270.40,84.11 L272.21,84.15 L274.01,84.18 L275.82,84.22 L277.63,84.26 L279.44,84.30 L281.25,84.33 L283.05,84.37 L284.86,84.41 L286.67,84.45 L288.48,84.49 L290.28,84.53 L292.09,84.57 L293.90,84.62 L295.71,84.66 L297.52,84.70 L299.32,84.75 L301.13,84.79 L302.94,84.83 L304.75,84.88 L306.55,84.92 L308.36,84.97 L310.17,85.02 L311.98,85.06 L313.79,85.11 L315.59,85.16 L317.40,85.21 L319.21,85.26 L321.02,85.30 L322.82,85.35 L324.63,85.40 L326.44,85.45 L328.25,85.50 L330.06,85.55 L331.86,85.61 L333.67,85.66 L335.48,85.71 L337.29,85.76 L339.10,85.81 L340.90,85.87 L342.71,85.92 L344.52,85.97 L346.33,86.03 L348.13,86.08 L349.94,86.13 L351.75,86.19 L353.56,86.24 L355.37,86.30 L357.17,86.35 L358.98,86.41 L360.79,86.46 L362.60,86.52 L364.40,86.58 L366.21,86.63 L368.02,86.69 L369.83,86.74 L371.64,86.80 L373.44,86.86 L375.25,86.92 L377.06,86.97 L378.87,87.03 L380.67,87.09 L382.48,87.15 L384.29,87.20 L386.10,87.26 L387.91,87.32 L389.71,87.38 L391.52,87.44 L393.33,87.50 L395.14,87.55 L396.95,87.61 L398.75,87.67 L400.56,87.73 L402.37,87.79 L404.18,87.85 L405.98,87.91 L407.79,87.97 L409.60,88.03 L411.41,88.09 L413.22,88.15 L415.02,88.21 L416.83,88.27 L418.64,88.33 L420.45,88.39 L422.25,88.45 L424.06,88.51 L425.87,88.57 L427.68,88.63 L429.49,88.69 L431.29,88.75 L433.10,88.81 L434.91,88.87 L436.72,88.93 L438.52,88.99 L440.33,89.05 L442.14,89.11 L443.95,89.17 L445.76,89.23 L447.56,89.30 L449.37,89.36 L451.18,89.42 L452.99,89.48 L454.80,89.54 L456.60,89.60 L458.41,89.66 L460.22,89.72 L462.03,89.78 L463.83,89.85 L465.64,89.91 L467.45,89.97 L469.26,90.03 L471.07,90.09 L472.87,90.15 L474.68,90.21 L476.49,90.27 L478.30,90.34 L480.10,90.40 L481.91,90.46 L483.72,90.52 L485.53,90.58 L487.34,90.64 L489.14,90.71 L490.95,90.77 L492.76,90.83 L494.57,90.89 L496.37,90.95 L498.18,91.01 L499.99,91.08 L501.80,91.14 L503.61,91.20 L505.41,91.26 L507.22,91.32 L509.03,91.38 L510.84,91.45 L512.65,91.51 L514.45,91.57 L516.26,91.63 L518.07,91.69 L519.88,91.75 L521.68,91.82 L523.49,91.88 L525.30,91.94 L527.11,92.00 L528.92,92.06 L530.72,92.13 L532.53,92.19 L534.34,92.25 L536.15,92.31 L537.95,92.37 L539.76,92.44 L541.57,92.50 L543.38,92.56 L545.19,92.62 L546.99,92.68 L548.80,92.74 L550.61,92.81 L552.42,92.87 L554.22,92.93 L556.03,92.99 L557.84,93.05 L559.65,93.12 L561.46,93.18 L563.26,93.24 L565.07,93.30 L566.88,93.36 L568.69,93.43 L570.50,93.49 L572.30,93.55 L574.11,93.61 L575.92,93.67 L577.73,93.74 L579.53,93.80 L581.34,93.86 L583.15,93.92 L584.96,93.98 L586.77,94.05 L588.57,94.11 L590.38,94.17 L592.19,94.23 L594.00,94.29 L595.80,94.36 L597.61,94.42 L599.42,94.48 L601.23,94.54 L603.04,94.60 L604.84,94.67 L606.65,94.73 L608.46,94.79 L610.27,94.85 L612.07,94.91 L613.88,94.98 L615.69,95.04 L617.50,95.10 L619.31,95.16 L621.11,95.22 L622.92,95.29 L624.73,95.35 L626.54,95.41 L628.35,95.47 L630.15,95.53 L631.96,95.60 L633.77,95.66 L635.58,95.72 L637.38,95.78 L639.19,95.85 L641.00,95.91 L642.81,95.97 L644.62,96.03 L646.42,96.09 L648.23,96.16 L650.04,96.22 L651.85,96.28 L653.65,96.34 L655.46,96.40 L657.27,96.47 L659.08,96.53 L660.89,96.59 L662.69,96.65 L664.50,96.71 L666.31,96.78 L668.12,96.84 L669.93,96.90 L671.73,96.96 L673.54,97.02 L675.35,97.09 L677.16,97.15 L678.96,97.21 L680.77,97.27 L682.58,97.33 L684.39,97.40 L686.20,97.46 L688.00,97.52 L689.81,97.58 L691.62,97.64 L693.43,97.71 L695.23,97.77 L697.04,97.83 L698.85,97.89 L700.66,97.95 L702.47,98.02 L704.27,98.08 L706.08,98.14 L707.89,98.20 L709.70,98.27 L711.50,98.33 L713.31,98.39 L715.12,98.45 L716.93,98.51 L718.74,98.58 L720.54,98.64 L722.35,98.70 L724.16,98.76 L725.97,98.82 L727.78,98.89 L729.58,98.95 L731.39,99.01 L733.20,99.07 L735.01,99.13" stroke="#ff0000" stroke-width="3.4" fill="none" stroke-linejoin="round"/>
<path d="M100.42,79.08 L101.05,79.28 L101.69,79.45 L102.32,79.59 L102.96,79.70 L103.59,79.79 L104.23,79.87 L104.86,79.93 L105.50,79.98 L106.14,80.02 L106.77,80.06 L107.41,80.08 L108.04,80.11 L108.68,80.13 L109.31,80.14 L109.95,80.16 L110.58,80.17 L111.22,80.18 L111.85,80.19 L112.49,80.19 L113.13,80.20 L113.76,80.20 L114.40,80.21 L115.03,80.21 L115.67,80.22 L116.30,80.22 L116.94,80.22 L117.57,80.22 L118.21,80.23 L118.85,80.23 L119.48,80.23 L120.12,80.23 L120.75,80.24 L121.39,80.24 L122.02,80.24 L122.66,80.24 L123.29,80.24 L123.93,80.25 L124.56,80.25 L125.20,80.25 L125.84,80.25 L126.47,80.25 L127.11,80.25 L127.74,80.26 L128.38,80.26 L129.01,80.26 L129.65,80.26 L130.28,80.26 L130.92,80.27 L131.56,80.27 L132.19,80.27 L132.83,80.27 L133.46,80.27 L134.10,80.28 L134.73,80.28 L135.37,80.28 L136.00,80.28 L136.64,80.29 L137.27,80.29 L137.91,80.29 L138.55,80.29 L139.18,80.29 L139.82,80.30 L140.45,80.30 L141.09,80.30 L141.72,80.30 L142.36,80.31 L142.99,80.31 L143.63,80.31 L144.27,80.31 L144.90,80.32 L145.54,80.32 L146.17,80.32 L146.81,80.32 L147.44,80.33 L148.08,80.33 L148.71,80.33 L149.35,80.33 L149.98,80.34 L150.62,80.34 L151.26,80.34 L151.89,80.34 L152.53,80.35 L153.16,80.35 L153.80,80.35 L154.43,80.36 L155.07,80.36 L155.70,80.36 L156.34,80.36 L156.98,80.37 L157.61,80.37 L158.25,80.37 L158.88,80.38 L159.52,80.38 L160.15,80.38 L160.79,80.39 L161.42,80.39 L162.06,80.39 L162.69,80.40 L163.33,80.40 L163.97,80.40 L164.60,80.41 L165.24,80.41 L165.87,80.41 L166.51,80.42 L167.14,80.42 L167.78,80.42 L168.41,80.43 L169.05,80.43 L169.69,80.43 L170.32,80.44 L170.96,80.44 L171.59,80.44 L172.23,80.45 L172.86,80.45 L173.50,80.45 L174.13,80.46 L174.77,80.46 L175.40,80.47 L176.04,80.47 L176.68,80.47 L177.31,80.48 L177.95,80.48 L178.58,80.49 L179.22,80.49 L179.85,80.49 L180.49,80.50 L181.12,80.50 L181.76,80.51 L182.40,80.51 L183.03,80.51 L183.67,80.52 L184.30,80.52 L184.94,80.53 L185.57,80.53 L186.21,80.54 L186.84,80.54 L187.48,80.54 L188.11,80.55 L188.75,80.55 L189.39,80.56 L190.02,80.56 L190.66,80.57 L191.29,80.57 L191.93,80.58 L192.56,80.58 L193.20,80.59 L193.83,80.59 L194.47,80.59 L196.28,80.61 L198.09,80.62 L199.89,80.64 L201.70,80.65 L203.51,80.67 L205.32,80.68 L207.12,80.70 L208.93,80.71 L210.74,80.73 L212.55,80.74 L214.36,80.76 L216.16,80.78 L217.97,80.79 L219.78,80.81 L221.59,80.83 L223.40,80.84 L225.20,80.86 L227.01,80.88 L228.82,80.90 L230.63,80.92 L232.43,80.94 L234.24,80.95 L236.05,80.97 L237.86,80.99 L239.67,81.01 L241.47,81.03 L243.28,81.05 L245.09,81.07 L246.90,81.09 L248.70,81.11 L250.51,81.13 L252.32,81.15 L254.13,81.18 L255.94,81.20 L257.74,81.22 L259.55,81.24 L261.36,81.26 L263.17,81.28 L264.97,81.31 L266.78,81.33 L268.59,81.35 L270.40,81.37 L272.21,81.39 L274.01,81.42 L275.82,81.44 L277.63,81.46 L279.44,81.49 L281.25,81.51 L283.05,81.53 L284.86,81.56 L286.67,81.58 L288.48,81.60 L290.28,81.63 L292.09,81.65 L293.90,81.68 L295.71,81.70 L297.52,81.73 L299.32,81.75 L301.13,81.77 L302.94,81.80 L304.75,81.82 L306.55,81.85 L308.36,81.87 L310.17,81.90 L311.98,81.92 L313.79,81.95 L315.59,81.97 L317.40,82.00 L319.21,82.02 L321.02,82.05 L322.82,82.07 L324.63,82.10 L326.44,82.13 L328.25,82.15 L330.06,82.18 L331.86,82.20 L333.67,82.23 L335.48,82.25 L337.29,82.28 L339.10,82.31 L340.90,82.33 L342.71,82.36 L344.52,82.38 L346.33,82.41 L348.13,82.44 L349.94,82.46 L351.75,82.49 L353.56,82.51 L355.37,82.54 L357.17,82.57 L358.98,82.59 L360.79,82.62 L362.60,82.65 L364.40,82.67 L366.21,82.70 L368.02,82.73 L369.83,82.75 L371.64,82.78 L373.44,82.80 L375.25,82.83 L377.06,82.86 L378.87,82.88 L380.67,82.91 L382.48,82.94 L384.29,82.96 L386.10,82.99 L387.91,83.02 L389.71,83.04 L391.52,83.07 L393.33,83.10 L395.14,83.12 L396.95,83.15 L398.75,83.18 L400.56,83.20 L402.37,83.23 L404.18,83.26 L405.98,83.29 L407.79,83.31 L409.60,83.34 L411.41,83.37 L413.22,83.39 L415.02,83.42 L416.83,83.45 L418.64,83.47 L420.45,83.50 L422.25,83.53 L424.06,83.55 L425.87,83.58 L427.68,83.61 L429.49,83.64 L431.29,83.66 L433.10,83.69 L434.91,83.72 L436.72,83.74 L438.52,83.77 L440.33,83.80 L442.14,83.82 L443.95,83.85 L445.76,83.88 L447.56,83.91 L449.37,83.93 L451.18,83.96 L452.99,83.99 L454.80,84.01 L456.60,84.04 L458.41,84.07 L460.22,84.09 L462.03,84.12 L463.83,84.15 L465.64,84.18 L467.45,84.20 L469.26,84.23 L471.07,84.26 L472.87,84.28 L474.68,84.31 L476.49,84.34 L478.30,84.37 L480.10,84.39 L481.91,84.42 L483.72,84.45 L485.53,84.47 L487.34,84.50 L489.14,84.53 L490.95,84.55 L492.76,84.58 L494.57,84.61 L496.37,84.64 L498.18,84.66 L499.99,84.69 L501.80,84.72 L503.61,84.74 L505.41,84.77 L507.22,84.80 L509.03,84.83 L510.84,84.85 L512.65,84.88 L514.45,84.91 L516.26,84.93 L518.07,84.96 L519.88,84.99 L521.68,85.02 L523.49,85.04 L525.30,85.07 L527.11,85.10 L528.92,85.12 L530.72,85.15 L532.53,85.18 L534.34,85.21 L536.15,85.23 L537.95,85.26 L539.76,85.29 L541.57,85.31 L543.38,85.34 L545.19,85.37 L546.99,85.40 L548.80,85.42 L550.61,85.45 L552.42,85.48 L554.22,85.50 L556.03,85.53 L557.84,85.56 L559.65,85.59 L561.46,85.61 L563.26,85.64 L565.07,85.67 L566.88,85.69 L568.69,85.72 L570.50,85.75 L572.30,85.78 L574.11,85.80 L575.92,85.83 L577.73,85.86 L579.53,85.88 L581.34,85.91 L583.15,85.94 L584.96,85.97 L586.77,85.99 L588.57,86.02 L590.38,86.05 L592.19,86.07 L594.00,86.10 L595.80,86.13 L597.61,86.16 L599.42,86.18 L601.23,86.21 L603.04,86.24 L604.84,86.26 L606.65,86.29 L608.46,86.32 L610.27,86.35 L612.07,86.37 L613.88,86.40 L615.69,86.43 L617.50,86.45 L619.31,86.48 L621.11,86.51 L622.92,86.54 L624.73,86.56 L626.54,86.59 L628.35,86.62 L630.15,86.64 L631.96,86.67 L633.77,86.70 L635.58,86.73 L637.38,86.75 L639.19,86.78 L641.00,86.81 L642.81,86.83 L644.62,86.86 L646.42,86.89 L648.23,86.92 L650.04,86.94 L651.85,86.97 L653.65,87.00 L655.46,87.02 L657.27,87.05 L659.08,87.08 L660.89,87.11 L662.69,87.13 L664.50,87.16 L666.31,87.19 L668.12,87.21 L669.93,87.24 L671.73,87.27 L673.54,87.30 L675.35,87.32 L677.16,87.35 L678.96,87.38 L680.77,87.40 L682.58,87.43 L684.39,87.46 L686.20,87.49 L688.00,87.51 L689.81,87.54 L691.62,87.57 L693.43,87.59 L695.23,87.62 L697.04,87.65 L698.85,87.68 L700.66,87.70 L702.47,87.73 L704.27,87.76 L706.08,87.78 L707.89,87.81 L709.70,87.84 L711.50,87.87 L713.31,87.89 L715.12,87.92 L716.93,87.95 L718.74,87.97 L720.54,88.00 L722.35,88.03 L724.16,88.06 L725.97,88.08 L727.78,88.11 L729.58,88.14 L731.39,88.16 L733.20,88.19 L735.01,88.22" stroke="#ff0000" stroke-width="3.4" fill="none" stroke-linejoin="round"/>
<path d="M100.42,78.57 L101.05,78.57 L101.69,78.57 L102.32,78.58 L102.96,78.58 L103.59,78.58 L104.23,78.58 L104.86,78.58 L105.50,78.58 L106.14,78.58 L106.77,78.59 L107.41,78.59 L108.04,78.59 L108.68,78.59 L109.31,78.59 L109.95,78.59 L110.58,78.59 L111.22,78.60 L111.85,78.60 L112.49,78.60 L113.13,78.60 L113.76,78.60 L114.40,78.60 L115.03,78.60 L115.67,78.60 L116.30,78.61 L116.94,78.61 L117.57,78.61 L118.21,78.61 L118.85,78.61 L119.48,78.61 L120.12,78.61 L120.75,78.62 L121.39,78.62 L122.02,78.62 L122.66,78.62 L123.29,78.62 L123.93,78.62 L124.56,78.62 L125.20,78.63 L125.84,78.63 L126.47,78.63 L127.11,78.63 L127.74,78.63 L128.38,78.63 L129.01,78.63 L129.65,78.63 L130.28,78.64 L130.92,78.64 L131.56,78.64 L132.19,78.64 L132.83,78.64 L133.46,78.64 L134.10,78.64 L134.73,78.65 L135.37,78.65 L136.00,78.65 L136.64,78.65 L137.27,78.65 L137.91,78.65 L138.55,78.65 L139.18,78.66 L139.82,78.66 L140.45,78.66 L141.09,78.66 L141.72,78.66 L142.36,78.66 L142.99,78.66 L143.63,78.66 L144.27,78.67 L144.90,78.67 L145.54,78.67 L146.17,78.67 L146.81,78.67 L147.44,78.67 L148.08,78.67 L148.71,78.68 L149.35,78.68 L149.98,78.68 L150.62,78.68 L151.26,78.68 L151.89,78.68 L152.53,78.68 L153.16,78.69 L153.80,78.69 L154.43,78.69 L155.07,78.69 L155.70,78.69 L156.34,78.69 L156.98,78.69 L157.61,78.69 L158.25,78.70 L158.88,78.70 L159.52,78.70 L160.15,78.70 L160.79,78.70 L161.42,78.70 L162.06,78.70 L162.69,78.71 L163.33,78.71 L163.97,78.71 L164.60,78.71 L165.24,78.71 L165.87,78.71 L166.51,78.71 L167.14,78.72 L167.78,78.72 L168.41,78.72 L169.05,78.72 L169.69,78.72 L170.32,78.72 L170.96,78.72 L171.59,78.72 L172.23,78.73 L172.86,78.73 L173.50,78.73 L174.13,78.73 L174.77,78.73 L175.40,78.73 L176.04,78.73 L176.68,78.74 L177.31,78.74 L177.95,78.74 L178.58,78.74 L179.22,78.74 L179.85,78.74 L180.49,78.74 L181.12,78.75 L181.76,78.75 L182.40,78.75 L183.03,78.75 L183.67,78.75 L184.30,78.75 L184.94,78.75 L185.57,78.75 L186.21,78.76 L186.84,78.76 L187.48,78.76 L188.11,78.76 L188.75,78.76 L189.39,78.76 L190.02,78.76 L190.66,78.77 L191.29,78.77 L191.93,78.77 L192.56,78.77 L193.20,78.77 L193.83,78.77 L194.47,78.77 L196.28,78.78 L198.09,78.78 L199.89,78.79 L201.70,78.79 L203.51,78.79 L205.32,78.80 L207.12,78.80 L208.93,78.81 L210.74,78.81 L212.55,78.81 L214.36,78.82 L216.16,78.82 L217.97,78.82 L219.78,78.83 L221.59,78.83 L223.40,78.84 L225.20,78.84 L227.01,78.84 L228.82,78.85 L230.63,78.85 L232.43,78.86 L234.24,78.86 L236.05,78.86 L237.86,78.87 L239.67,78.87 L241.47,78.87 L243.28,78.88 L245.09,78.88 L246.90,78.89 L248.70,78.89 L250.51,78.89 L252.32,78.90 L254.13,78.90 L255.94,78.91 L257.74,78.91 L259.55,78.91 L261.36,78.92 L263.17,78.92 L264.97,78.93 L266.78,78.93 L268.59,78.93 L270.40,78.94 L272.21,78.94 L274.01,78.94 L275.82,78.95 L277.63,78.95 L279.44,78.96 L281.25,78.96 L283.05,78.96 L284.86,78.97 L286.67,78.97 L288.48,78.98 L290.28,78.98 L292.09,78.98 L293.90,78.99 L295.71,78.99 L297.52,79.00 L299.32,79.00 L301.13,79.00 L302.94,79.01 L304.75,79.01 L306.55,79.01 L308.36,79.02 L310.17,79.02 L311.98,79.03 L313.79,79.03 L315.59,79.03 L317.40,79.04 L319.21,79.04 L321.02,79.05 L322.82,79.05 L324.63,79.05 L326.44,79.06 L328.25,79.06 L330.06,79.06 L331.86,79.07 L333.67,79.07 L335.48,79.08 L337.29,79.08 L339.10,79.08 L340.90,79.09 L342.71,79.09 L344.52,79.10 L346.33,79.10 L348.13,79.10 L349.94,79.11 L351.75,79.11 L353.56,79.12 L355.37,79.12 L357.17,79.12 L358.98,79.13 L360.79,79.13 L362.60,79.13 L364.40,79.14 L366.21,79.14 L368.02,79.15 L369.83,79.15 L371.64,79.15 L373.44,79.16 L375.25,79.16 L377.06,79.17 L378.87,79.17 L380.67,79.17 L382.48,79.18 L384.29,79.18 L386.10,79.19 L387.91,79.19 L389.71,79.19 L391.52,79.20 L393.33,79.20 L395.14,79.20 L396.95,79.21 L398.75,79.21 L400.56,79.22 L402.37,79.22 L404.18,79.22 L405.98,79.23 L407.79,79.23 L409.60,79.24 L411.41,79.24 L413.22,79.24 L415.02,79.25 L416.83,79.25 L418.64,79.26 L420.45,79.26 L422.25,79.26 L424.06,79.27 L425.87,79.27 L427.68,79.27 L429.49,79.28 L431.29,79.28 L433.10,79.29 L434.91,79.29 L436.72,79.29 L438.52,79.30 L440.33,79.30 L442.14,79.31 L443.95,79.31 L445.76,79.31 L447.56,79.32 L449.37,79.32 L451.18,79.32 L452.99,79.33 L454.80,79.33 L456.60,79.34 L458.41,79.34 L460.22,79.34 L462.03,79.35 L463.83,79.35 L465.64,79.36 L467.45,79.36 L469.26,79.36 L471.07,79.37 L472.87,79.37 L474.68,79.38 L476.49,79.38 L478.30,79.38 L480.10,79.39 L481.91,79.39 L483.72,79.39 L485.53,79.40 L487.34,79.40 L489.14,79.41 L490.95,79.41 L492.76,79.41 L494.57,79.42 L496.37,79.42 L498.18,79.43 L499.99,79.43 L501.80,79.43 L503.61,79.44 L505.41,79.44 L507.22,79.45 L509.03,79.45 L510.84,79.45 L512.65,79.46 L514.45,79.46 L516.26,79.46 L518.07,79.47 L519.88,79.47 L521.68,79.48 L523.49,79.48 L525.30,79.48 L527.11,79.49 L528.92,79.49 L530.72,79.50 L532.53,79.50 L534.34,79.50 L536.15,79.51 L537.95,79.51 L539.76,79.51 L541.57,79.52 L543.38,79.52 L545.19,79.53 L546.99,79.53 L548.80,79.53 L550.61,79.54 L552.42,79.54 L554.22,79.55 L556.03,79.55 L557.84,79.55 L559.65,79.56 L561.46,79.56 L563.26,79.57 L565.07,79.57 L566.88,79.57 L568.69,79.58 L570.50,79.58 L572.30,79.58 L574.11,79.59 L575.92,79.59 L577.73,79.60 L579.53,79.60 L581.34,79.60 L583.15,79.61 L584.96,79.61 L586.77,79.62 L588.57,79.62 L590.38,79.62 L592.19,79.63 L594.00,79.63 L595.80,79.64 L597.61,79.64 L599.42,79.64 L601.23,79.65 L603.04,79.65 L604.84,79.65 L606.65,79.66 L608.46,79.66 L610.27,79.67 L612.07,79.67 L613.88,79.67 L615.69,79.68 L617.50,79.68 L619.31,79.69 L621.11,79.69 L622.92,79.69 L624.73,79.70 L626.54,79.70 L628.35,79.71 L630.15,79.71 L631.96,79.71 L633.77,79.72 L635.58,79.72 L637.38,79.72 L639.19,79.73 L641.00,79.73 L642.81,79.74 L644.62,79.74 L646.42,79.74 L648.23,79.75 L650.04,79.75 L651.85,79.76 L653.65,79.76 L655.46,79.76 L657.27,79.77 L659.08,79.77 L660.89,79.77 L662.69,79.78 L664.50,79.78 L666.31,79.79 L668.12,79.79 L669.93,79.79 L671.73,79.80 L673.54,79.80 L675.35,79.81 L677.16,79.81 L678.96,79.81 L680.77,79.82 L682.58,79.82 L684.39,79.83 L686.20,79.83 L688.00,79.83 L689.81,79.84 L691.62,79.84 L693.43,79.84 L695.23,79.85 L697.04,79.85 L698.85,79.86 L700.66,79.86 L702.47,79.86 L704.27,79.87 L706.08,79.87 L707.89,79.88 L709.70,79.88 L711.50,79.88 L713.31,79.89 L715.12,79.89 L716.93,79.90 L718.74,79.90 L720.54,79.90 L722.35,79.91 L724.16,79.91 L725.97,79.91 L727.78,79.92 L729.58,79.92 L731.39,79.93 L733.20,79.93 L735.01,79.93" stroke="#ff0000" stroke-width="3.4" fill="none" stroke-linejoin="round"/>
<path d="M100.2,78.25 H735.2" fill="none" stroke="#000" stroke-width="4.2" stroke-dasharray="12.6 4"/>
<g class="t">
<text transform="translate(80.0,424.90) scale(0.96,1)" font-size="19.75px" text-anchor="end">0.0</text>
<text transform="translate(80.0,356.90) scale(0.96,1)" font-size="19.75px" text-anchor="end">0.2</text>
<text transform="translate(80.0,288.90) scale(0.96,1)" font-size="19.75px" text-anchor="end">0.4</text>
<text transform="translate(80.0,220.90) scale(0.96,1)" font-size="19.75px" text-anchor="end">0.6</text>
<text transform="translate(80.0,152.90) scale(0.96,1)" font-size="19.75px" text-anchor="end">0.8</text>
<text transform="translate(80.0,84.90) scale(0.96,1)" font-size="19.75px" text-anchor="end">.0</text>
<path transform="translate(53.64,84.90) scale(0.00926,-0.00928)" d="M763 0H583V1147Q518 1085 412.5 1023T223 930V1104Q374 1175 487 1276T647 1472H763Z" fill="#000"/>
<text transform="translate(80.0,16.90) scale(0.96,1)" font-size="19.75px" text-anchor="end">.2</text>
<path transform="translate(53.64,16.90) scale(0.00926,-0.00928)" d="M763 0H583V1147Q518 1085 412.5 1023T223 930V1104Q374 1175 487 1276T647 1472H763Z" fill="#000"/>
<text transform="translate(99.40,441.2) scale(0.96,1)" font-size="19.75px" text-anchor="middle">0</text>
<text transform="translate(257.85,441.2) scale(0.96,1)" font-size="19.75px" text-anchor="middle">5</text>
<text transform="translate(416.30,441.2) scale(0.96,1)" font-size="19.75px">0</text>
<path transform="translate(405.75,441.20) scale(0.00926,-0.00928)" d="M763 0H583V1147Q518 1085 412.5 1023T223 930V1104Q374 1175 487 1276T647 1472H763Z" fill="#000"/>
<text transform="translate(574.75,441.2) scale(0.96,1)" font-size="19.75px">5</text>
<path transform="translate(564.20,441.20) scale(0.00926,-0.00928)" d="M763 0H583V1147Q518 1085 412.5 1023T223 930V1104Q374 1175 487 1276T647 1472H763Z" fill="#000"/>
<text transform="translate(733.20,441.2) scale(0.96,1)" font-size="19.75px" text-anchor="middle">20</text>
</g>
<g class="t">
<text transform="translate(636.56,142.00) scale(1.044,1)" font-size="36.7px">Δ</text>
<rect x="664.20" y="134.95" width="16.68" height="2.6" fill="#000"/>
<rect x="664.20" y="127.60" width="16.68" height="2.6" fill="#000"/>
<text transform="translate(682.64,142.00) scale(0.955,1)" font-size="36.7px">2</text>
<text transform="translate(636.56,209.50) scale(1.044,1)" font-size="36.7px">Δ</text>
<rect x="664.20" y="202.45" width="16.68" height="2.6" fill="#000"/>
<rect x="664.20" y="195.10" width="16.68" height="2.6" fill="#000"/>
<path transform="translate(683.05,209.50) scale(0.01724,-0.01724)" d="M763 0H583V1147Q518 1085 412.5 1023T223 930V1104Q374 1175 487 1276T647 1472H763Z" fill="#000"/>
<text transform="translate(636.56,380.20) scale(1.044,1)" font-size="36.7px">Δ</text>
<rect x="664.20" y="373.15" width="16.68" height="2.6" fill="#000"/>
<rect x="664.20" y="365.80" width="16.68" height="2.6" fill="#000"/>
<text transform="translate(682.93,380.20) scale(0.955,1)" font-size="36.7px">0</text>
<text transform="translate(536.26,56.50) scale(1.044,1)" font-size="36.7px">Δ</text>
<rect x="563.90" y="49.45" width="16.68" height="2.6" fill="#000"/>
<rect x="563.90" y="42.10" width="16.68" height="2.6" fill="#000"/>
<path transform="translate(582.65,56.50) scale(0.01724,-0.01724)" d="M763 0H583V1147Q518 1085 412.5 1023T223 930V1104Q374 1175 487 1276T647 1472H763Z" fill="#000"/>
<text transform="translate(601.53,56.50) scale(0.955,1)" font-size="36.7px">0</text>
<text transform="translate(620.75,56.50) scale(0.955,1)" font-size="36.7px">,</text>
<text transform="translate(630.74,56.50) scale(0.955,1)" font-size="36.7px">2</text>
<text transform="translate(652.03,56.50) scale(0.955,1)" font-size="36.7px">0</text>
<text transform="translate(669.85,56.50) scale(0.955,1)" font-size="36.7px">,</text>
<path transform="translate(680.65,56.50) scale(0.01724,-0.01724)" d="M763 0H583V1147Q518 1085 412.5 1023T223 930V1104Q374 1175 487 1276T647 1472H763Z" fill="#000"/>
<text transform="translate(700.03,56.50) scale(0.955,1)" font-size="36.7px">0</text>
<text transform="translate(719.23,56.50) scale(0.955,1)" font-size="36.7px">0</text>
<text x="417.3" y="489.7" text-anchor="middle" font-style="italic" font-size="33px">β</text>
<text transform="translate(32,214.3) rotate(-90)" text-anchor="middle" font-size="34px">r(<tspan font-style="italic">β</tspan>)</text>
</g>
</svg>
</body></html>
